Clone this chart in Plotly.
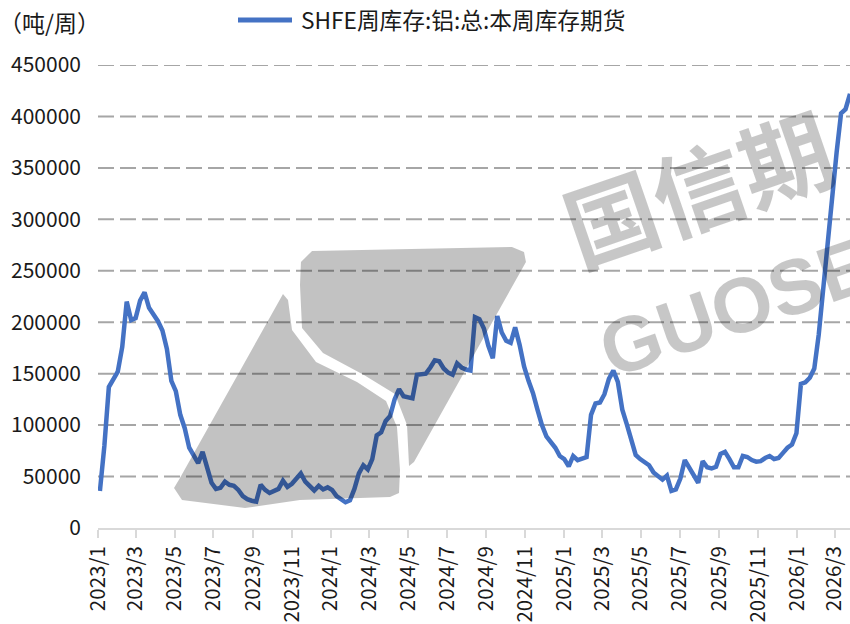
import plotly.graph_objects as go
import pandas as pd

# ---------------- data ----------------
start_date = "2023-01-04"
inventory = [
    36000, 80000, 137000, 144000, 152000, 176000, 220000, 202000, 204000, 221000,
    229000, 214000, 208000, 201000, 192000, 174000, 143000, 133000, 110000, 97000,
    78000, 70000, 63000, 74000, 58000, 44000, 38000, 39000, 45000, 42000,
    41000, 37000, 31000, 28000, 26500, 25600, 42000, 37000, 34000, 35500,
    38000, 46000, 40000, 43000, 48000, 53000, 45000, 41000, 36500, 41000,
    37500, 39500, 37000, 31000, 28300, 25000, 27000, 38000, 53000, 61000,
    57000, 67000, 90000, 93000, 104000, 109000, 125000, 135000, 128000, 126500,
    126000, 149000, 149500, 150000, 156000, 163000, 162000, 155000, 151000, 149000,
    160000, 156000, 154000, 153000, 205000, 203000, 194000, 177000, 165000, 206000,
    190000, 182000, 180000, 195000, 178000, 157000, 143000, 131000, 115000, 100000,
    89000, 83000, 78000, 70000, 67000, 60000, 70000, 66000, 67000, 69000,
    110000, 121000, 122000, 130000, 145000, 153000, 142000, 115000, 101000, 87000,
    71000, 67000, 64500, 61000, 54000, 50000, 47000, 51000, 36000, 37500,
    48000, 66000, 59000, 51000, 44000, 65000, 59000, 58000, 59500, 72000,
    74000, 67000, 59000, 59000, 70000, 69000, 66000, 64500, 65000, 68000,
    70000, 67000, 68000, 73000, 78000, 81000, 92000, 140000, 141500, 146000,
    155000, 188000, 235000, 275000, 320000, 365000, 403000, 407000, 422000,
]
dates = pd.date_range(start_date, periods=len(inventory), freq="7D")

tick_months = pd.date_range("2023-01-01", "2026-03-01", freq="2MS")
tick_labels = [f"{d.year}/{d.month}" for d in tick_months]
y_ticks = list(range(0, 450001, 50000))
x_range = ["2023-01-01", "2026-03-25"]

series_name = "SHFE周库存:铝:总:本周库存期货"
unit_label = "（吨/周）"

# ---------------- layout helpers ----------------
W, H = 850, 624
L, R, T, B = 98, 0, 65, 96
FONT = "Noto Sans CJK SC, Noto Sans, sans-serif"
BLUE = "#4472C4"


def px(x):
    return (x - L) / (W - L - R)


def py(y):
    return (H - B - y) / (H - T - B)


def poly(points):
    return "M " + " L ".join(f"{px(x):.4f},{py(y):.4f}" for x, y in points) + " Z"


fig = go.Figure()
fig.add_trace(go.Scatter(
    x=dates, y=inventory, mode="lines", name=series_name,
    line=dict(color=BLUE, width=4.5), showlegend=False,
))

shapes = []
# dashed gridlines
for v in y_ticks[1:]:
    shapes.append(dict(type="line", xref="paper", yref="y", x0=0, x1=1, y0=v, y1=v,
                       line=dict(color="#a6a6a6", width=2, dash="16px,6px"), layer="below"))

# watermark logo (semi-transparent overlay)
wm = "rgba(0,0,0,0.24)"
left_piece = [(174, 488), (180, 478), (283, 294), (288, 300), (292, 330), (316, 362),
              (357, 382), (386, 401), (397, 427), (400, 470), (399, 493), (390, 497),
              (300, 500), (245, 508), (182, 500)]
right_piece = [(300, 285), (301, 262), (312, 251), (512, 247), (524, 252), (526, 262),
               (414, 462), (409, 466), (407, 425), (395, 394), (364, 375), (323, 353),
               (302, 328)]
for pts in (left_piece, right_piece):
    shapes.append(dict(type="path", xref="paper", yref="paper", path=poly(pts),
                       fillcolor=wm, line=dict(width=0), layer="above"))

# legend sample line
shapes.append(dict(type="line", xref="paper", yref="paper", x0=px(238), x1=px(292),
                   y0=py(20), y1=py(20), line=dict(color=BLUE, width=5)))

annotations = [
    dict(text=series_name, xref="paper", yref="paper", x=px(299), y=py(20),
         xanchor="left", yanchor="middle", showarrow=False,
         font=dict(family=FONT, size=22.7, color="#1a1a1a")),
    dict(text=unit_label, xref="paper", yref="paper", x=px(-3), y=py(22),
         xanchor="left", yanchor="middle", showarrow=False,
         font=dict(family=FONT, size=23, color="#1a1a1a")),
    dict(text="国信期", xref="paper", yref="paper", x=px(697), y=py(184),
         xanchor="center", yanchor="middle", showarrow=False, textangle=-19,
         font=dict(family=FONT, size=92, color="rgba(0,0,0,0.22)", weight=700)),
    dict(text="GUOSE", xref="paper", yref="paper", x=px(736), y=py(307),
         xanchor="center", yanchor="middle", showarrow=False, textangle=-19,
         font=dict(family="Liberation Sans, Arial, sans-serif", size=78,
                   color="rgba(0,0,0,0.22)", weight=700)),
]

fig.update_layout(
    width=W, height=H,
    margin=dict(l=L, r=R, t=T, b=B, pad=0, autoexpand=False),
    paper_bgcolor="white", plot_bgcolor="white",
    font=dict(family=FONT, size=22, color="#1a1a1a"),
    shapes=shapes, annotations=annotations,
    showlegend=False,
)
fig.update_xaxes(
    type="date", range=x_range, automargin=False,
    tickmode="array", tickvals=tick_months, ticktext=tick_labels,
    tickangle=-90, ticks="outside", ticklen=8, tickwidth=1.5, tickcolor="#d9d9d9",
    showline=True, linecolor="#d9d9d9", linewidth=2,
    showgrid=False, zeroline=False,
    tickfont=dict(family=FONT, size=20.5, color="#1a1a1a"),
)
fig.update_yaxes(
    range=[0, 450000], tickmode="array", tickvals=y_ticks, automargin=False,
    ticktext=[str(v) for v in y_ticks],
    showgrid=False, zeroline=False, showline=False, ticks="",
    ticklabelstandoff=16,
    tickfont=dict(family=FONT, size=21, color="#1a1a1a"),
)

fig.write_html("out.html", config={"displayModeBar": False},
               post_script="document.body.style.margin='0';")
